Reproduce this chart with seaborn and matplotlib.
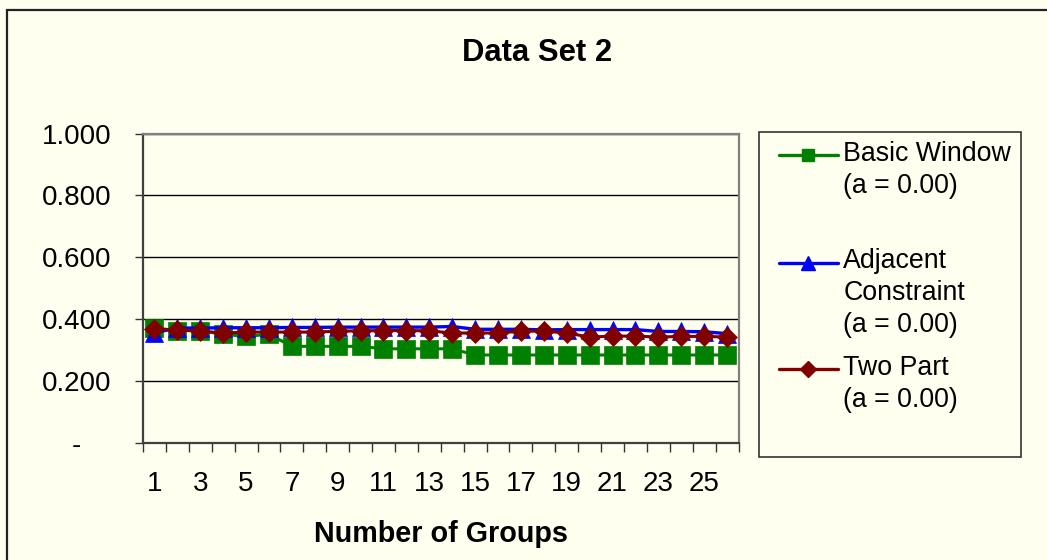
import matplotlib
matplotlib.use("Agg")
import matplotlib.pyplot as plt
import seaborn as sns
import pandas as pd
from matplotlib.lines import Line2D
from matplotlib.patches import Rectangle
from matplotlib.transforms import ScaledTranslation

# ---- data ---------------------------------------------------------------
groups = [1, 2, 3, 4, 5, 6, 7, 8, 9, 10, 11, 12, 13,
          14, 15, 16, 17, 18, 19, 20, 21, 22, 23, 24, 25, 26]

basic_window = [0.372, 0.364, 0.364, 0.352, 0.345, 0.352, 0.313, 0.313, 0.313,
                0.313, 0.305, 0.305, 0.305, 0.305, 0.285, 0.285, 0.285, 0.285,
                0.285, 0.285, 0.285, 0.285, 0.285, 0.285, 0.285, 0.285]

adjacent_constraint = [0.357, 0.372, 0.372, 0.373, 0.373, 0.373, 0.374, 0.374,
                       0.375, 0.375, 0.375, 0.375, 0.375, 0.377, 0.368, 0.368,
                       0.368, 0.366, 0.367, 0.367, 0.367, 0.367, 0.361, 0.361,
                       0.360, 0.354]

two_part = [0.369, 0.366, 0.362, 0.356, 0.359, 0.359, 0.359, 0.359, 0.362,
            0.363, 0.364, 0.364, 0.363, 0.356, 0.356, 0.356, 0.362, 0.362,
            0.356, 0.343, 0.346, 0.346, 0.343, 0.345, 0.345, 0.343]

series_names = ["Basic Window\n(a = 0.00)",
                "Adjacent\nConstraint\n(a = 0.00)",
                "Two Part\n(a = 0.00)"]

y_ticks = [0.0, 0.2, 0.4, 0.6, 0.8, 1.0]
y_tick_labels = ["-", "0.200", "0.400", "0.600", "0.800", "1.000"]
x_label_groups = [1, 3, 5, 7, 9, 11, 13, 15, 17, 19, 21, 23, 25]

title = "Data Set 2"
x_title = "Number of Groups"

# ---- styling ------------------------------------------------------------
BG = "#FFFFF0"
GREEN = "#008000"
BLUE = "#0000FF"
DARKRED = "#800000"
TICK_FS = 20
LEGEND_FS = 19.3

sns.set_theme(style="white")
plt.rcParams["font.family"] = ["Liberation Sans", "DejaVu Sans"]
plt.rcParams["text.color"] = "black"

W, H = 1047, 560
fig = plt.figure(figsize=(W / 100, H / 100), dpi=100, facecolor=BG)


def fx(x):
    return x / W


def fy(y):
    return 1 - y / H


# outer chart frame (runs off the right and bottom edges)
fig.add_artist(Rectangle((fx(7), fy(700)), fx(1200), fy(10) - fy(700),
                         transform=fig.transFigure, fill=False,
                         edgecolor="#222222", linewidth=1.6, zorder=0))

ax = fig.add_axes([fx(143), fy(443.3), fx(738.5) - fx(143), fy(133.5) - fy(443.3)])
ax.set_facecolor(BG)

df = pd.DataFrame({"group": groups,
                   "basic": basic_window,
                   "adjacent": adjacent_constraint,
                   "twopart": two_part})

sns.lineplot(data=df, x="group", y="basic", ax=ax, color=GREEN, marker="s",
             markersize=13.5, markeredgecolor=GREEN, markeredgewidth=0.5,
             linewidth=2.2, legend=False, zorder=3)
sns.lineplot(data=df, x="group", y="adjacent", ax=ax, color=BLUE, marker="^",
             markersize=13, markeredgecolor=BLUE, markeredgewidth=0.5,
             linewidth=2.4, legend=False, zorder=4)
sns.lineplot(data=df, x="group", y="twopart", ax=ax, color=DARKRED, marker="D",
             markersize=10.2, markeredgecolor=DARKRED, markeredgewidth=0.5,
             linewidth=2.2, legend=False, zorder=5)

# axes, ticks and grid
ax.set_xlim(0.5, 26.5)
ax.set_ylim(0, 1)
ax.set_ylabel("")

boundaries = [g - 0.5 for g in groups] + [groups[-1] + 0.5]
ax.set_xticks(boundaries)
ax.set_xticklabels([""] * len(boundaries))
ax.set_xticks(x_label_groups, minor=True)
ax.set_xticklabels([str(g) for g in x_label_groups], minor=True)
ax.tick_params(axis="x", which="major", direction="out", length=6.5,
               width=1, color="#333333", bottom=True)
ax.tick_params(axis="x", which="minor", length=0, pad=20, labelsize=TICK_FS,
               labelcolor="black", bottom=True)

ax.set_yticks(y_ticks)
ax.set_yticklabels(y_tick_labels)
ax.tick_params(axis="y", which="major", direction="out", length=6,
               width=1, color="#333333", pad=17, labelsize=TICK_FS,
               labelcolor="black", left=True)
zero_label = ax.get_yticklabels()[0]
zero_label.set_transform(zero_label.get_transform() +
                         ScaledTranslation(-0.30, 0, fig.dpi_scale_trans))

ax.yaxis.grid(True, color="black", linewidth=1)
ax.xaxis.grid(False)
ax.set_axisbelow(True)

for side in ["left", "bottom"]:
    ax.spines[side].set_color("#404040")
    ax.spines[side].set_linewidth(1.6)
for side in ["top", "right"]:
    ax.spines[side].set_color("#808080")
    ax.spines[side].set_linewidth(1.6)

# titles
fig.text(fx(537), fy(60.7), title, ha="center", va="baseline",
         fontsize=22.3, fontweight="bold", color="black")
ax.set_xlabel(x_title, fontsize=20.7, fontweight="bold", color="black")
ax.xaxis.set_label_coords(0.5, (fy(541.7) - fy(443.3)) / (fy(133.5) - fy(443.3)))
ax.xaxis.label.set_va("baseline")

# legend box
fig.add_artist(Rectangle((fx(758.7), fy(457.3)), fx(1020.7) - fx(758.7),
                         fy(131.7) - fy(457.3), transform=fig.transFigure,
                         facecolor=BG, edgecolor="#333333", linewidth=1.2,
                         zorder=1))

legend_entries = [
    (series_names[0], GREEN, "s", 8.5, 155.0, 160.7),
    (series_names[1], BLUE, "^", 10, 263.3, 268.0),
    (series_names[2], DARKRED, "D", 8, 369.3, 375.0),
]
for label, color, marker, msize, y_handle, y_base in legend_entries:
    fig.add_artist(Line2D([fx(779.3), fx(838.3)], [fy(y_handle)] * 2,
                          transform=fig.transFigure, color=color,
                          linewidth=2.4, zorder=2))
    fig.add_artist(Line2D([fx(808.3)], [fy(y_handle)], transform=fig.transFigure,
                          color=color, marker=marker, markersize=msize,
                          linestyle="none", zorder=3))
    for i, line in enumerate(label.split("\n")):
        fig.text(fx(843.3), fy(y_base + 32 * i), line, ha="left",
                 va="baseline", fontsize=LEGEND_FS, color="black", zorder=3)

fig.savefig("out.png", dpi=100, facecolor=BG)
